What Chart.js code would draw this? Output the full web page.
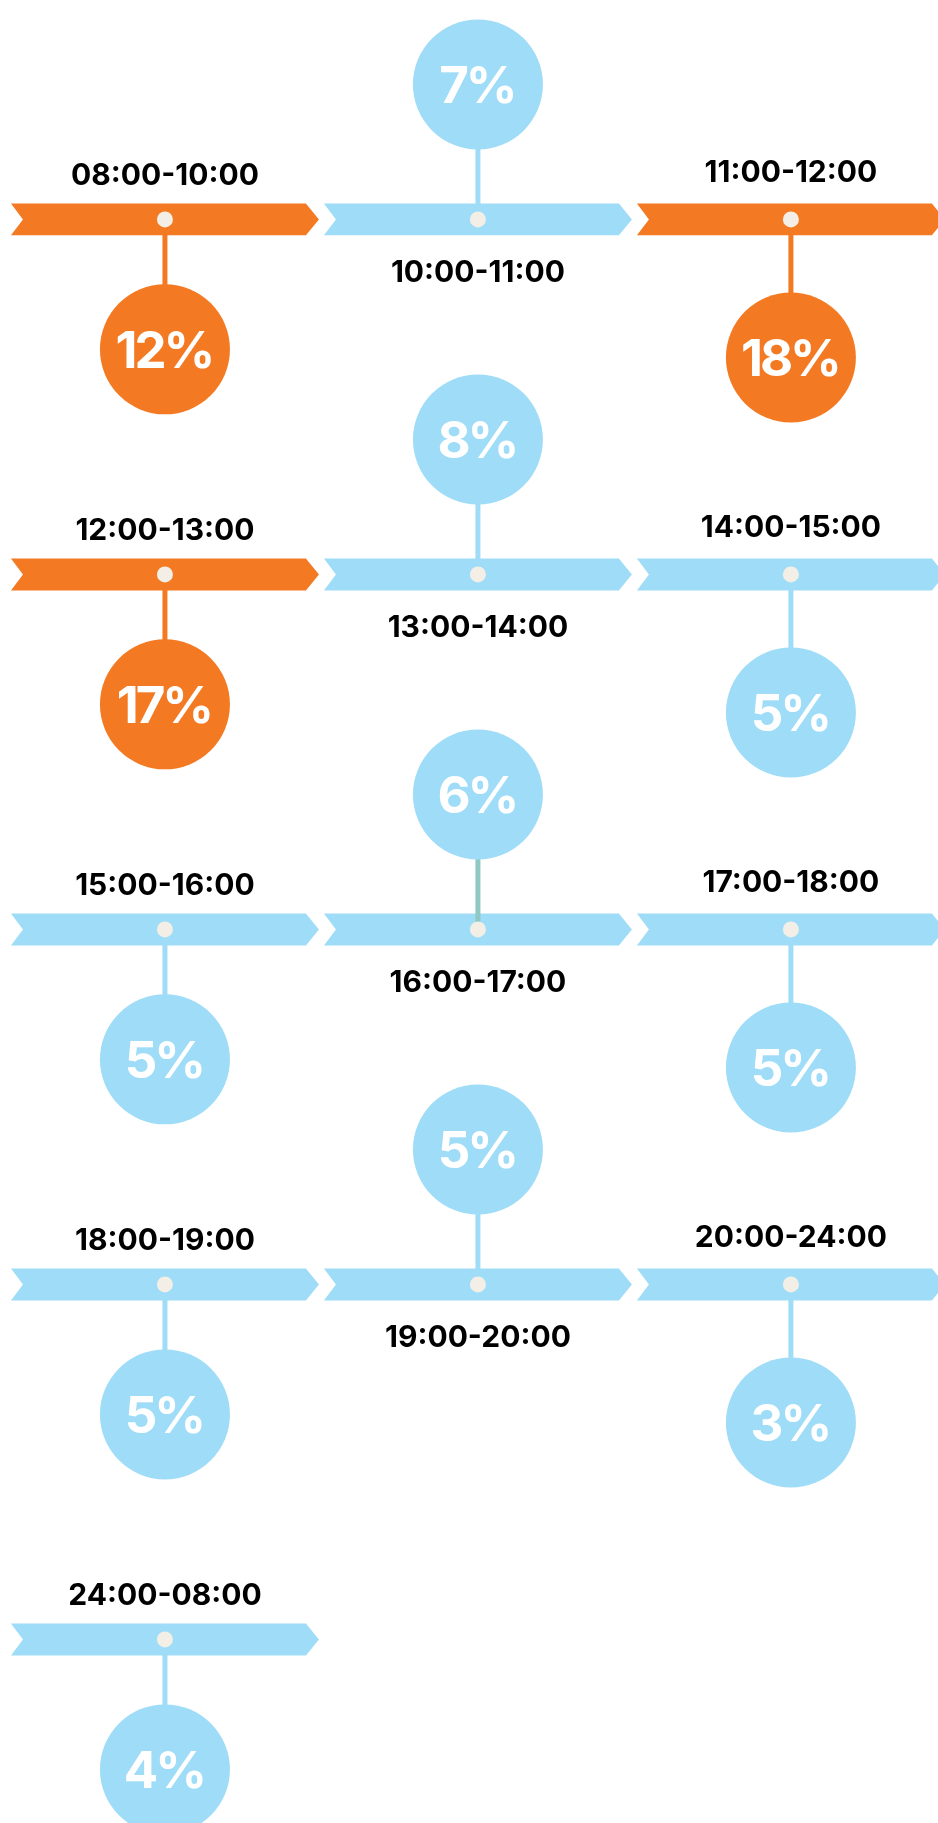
<!DOCTYPE html>
<html>
<head>
<meta charset="utf-8">
<script src="https://cdn.jsdelivr.net/npm/chart.js@4/dist/chart.umd.min.js"></script>
<style>
  html, body { margin: 0; padding: 0; background: #fff; }
  #wrap { width: 938px; height: 1823px; }
  canvas { display: block; }
</style>
</head>
<body>
<div id="wrap"><canvas id="chart" width="938" height="1823"></canvas></div>
<script>
// time slots, read left to right, top to bottom
const periods = [
  '08:00-10:00', '10:00-11:00', '11:00-12:00',
  '12:00-13:00', '13:00-14:00', '14:00-15:00',
  '15:00-16:00', '16:00-17:00', '17:00-18:00',
  '18:00-19:00', '19:00-20:00', '20:00-24:00',
  '24:00-08:00'
];
// share of the day, in percent
const shares = [12, 7, 18, 17, 8, 5, 5, 6, 5, 5, 5, 3, 4];
const peakLevel = 10;

const ORANGE = '#f37a22';
const BLUE = '#9fdcf7';
const DOT = '#f3efe6';
const FONT = 'Inter, "DejaVu Sans", sans-serif';

const perRow = 3;
const colOf = i => i % perRow;
const rowOf = i => Math.floor(i / perRow);
const colorOf = i => shares[i] >= peakLevel ? ORANGE : BLUE;
// middle column hangs its circle above the ribbon, the others below
const bubbleShift = i => colOf(i) === 1 ? -0.38 : (colOf(i) === 0 ? 0.366 : 0.389);

const dots = periods.map((p, i) => ({ x: colOf(i), y: rowOf(i) }));
const bubbles = periods.map((p, i) => ({ x: colOf(i), y: rowOf(i) + bubbleShift(i) }));
const stems = [];
periods.forEach((p, i) => {
  stems.push(dots[i], bubbles[i], { x: colOf(i), y: null });
});

const ribbonPlugin = {
  id: 'ribbons',
  beforeDatasetsDraw(chart) {
    const { ctx, scales: { x, y } } = chart;
    ctx.save();
    periods.forEach((p, i) => {
      const c = colOf(i), r = rowOf(i);
      const x0 = x.getPixelForValue(c - 0.492);
      const x1 = x.getPixelForValue(c + 0.492);
      const yt = y.getPixelForValue(r - 0.045);
      const yb = y.getPixelForValue(r + 0.045);
      const ym = y.getPixelForValue(r);
      ctx.beginPath();
      ctx.moveTo(x0, yt);
      ctx.lineTo(x1 - 13, yt);
      ctx.lineTo(x1, ym);
      ctx.lineTo(x1 - 13, yb);
      ctx.lineTo(x0, yb);
      ctx.lineTo(x0 + 12, ym);
      ctx.closePath();
      ctx.fillStyle = colorOf(i);
      ctx.fill();
    });
    ctx.restore();
  },
  afterDatasetsDraw(chart) {
    const { ctx, scales: { x, y } } = chart;
    ctx.save();
    ctx.textAlign = 'center';
    ctx.textBaseline = 'middle';
    // slot names
    ctx.fillStyle = '#000';
    ctx.font = '700 30px ' + FONT;
    periods.forEach((p, i) => {
      const c = colOf(i);
      const dy = c === 1 ? 0.152 : (c === 0 ? -0.122 : -0.13);
      ctx.fillText(p, x.getPixelForValue(c), y.getPixelForValue(rowOf(i) + dy));
    });
    // percentages inside the circles
    ctx.fillStyle = '#fff';
    ctx.font = '700 51px ' + FONT;
    ctx.letterSpacing = '-3px';
    const meta = chart.getDatasetMeta(1);
    meta.data.forEach((pt, i) => {
      ctx.fillText(shares[i] + '%', pt.x - 1, pt.y + 3);
    });
    ctx.restore();
  }
};

new Chart(document.getElementById('chart'), {
  type: 'scatter',
  data: {
    datasets: [
      {
        label: 'stems',
        type: 'line',
        data: stems,
        showLine: true,
        spanGaps: false,
        borderWidth: 5,
        pointRadius: 0,
        clip: false,
        segment: {
          borderColor: ctx => {
            const i = Math.floor(ctx.p0DataIndex / 3);
            return i === 7 ? '#8ec9c4' : colorOf(i);
          }
        },
        order: 3
      },
      {
        label: 'share',
        data: bubbles,
        pointRadius: 65,
        pointBackgroundColor: periods.map((p, i) => colorOf(i)),
        pointBorderWidth: 0,
        clip: false,
        order: 2
      },
      {
        label: 'dots',
        data: dots,
        pointRadius: 8,
        pointBackgroundColor: DOT,
        pointBorderWidth: 0,
        clip: false,
        order: 1
      }
    ]
  },
  options: {
    responsive: false,
    animation: false,
    events: [],
    layout: { padding: 0, autoPadding: false },
    plugins: {
      legend: { display: false },
      tooltip: { enabled: false }
    },
    scales: {
      x: { type: 'linear', display: false, min: -0.527, max: 2.470 },
      y: { type: 'linear', display: false, reverse: true, min: -0.618, max: 4.517 }
    }
  },
  plugins: [ribbonPlugin]
});
</script>
</body>
</html>
